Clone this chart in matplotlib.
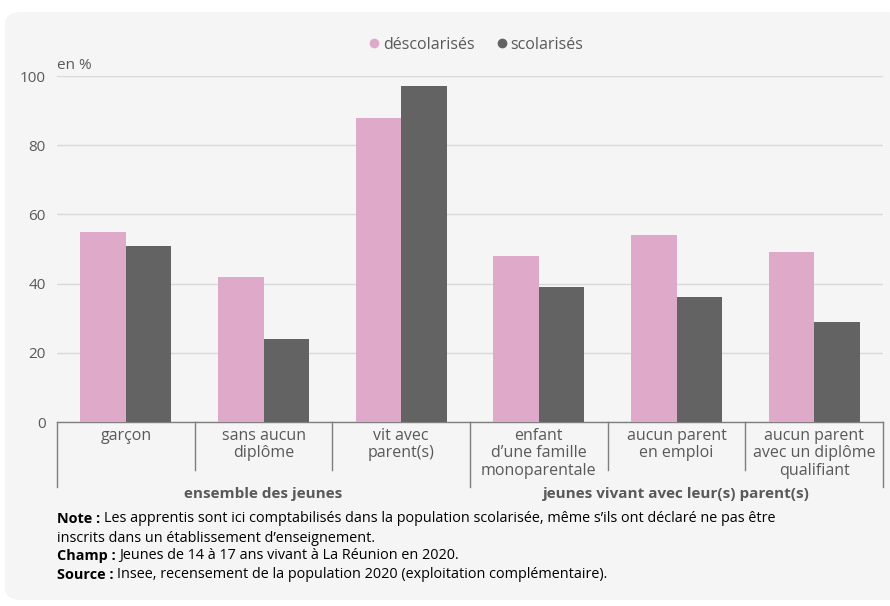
import matplotlib
matplotlib.use("Agg")
import matplotlib.pyplot as plt
import numpy as np
from matplotlib.patches import FancyBboxPatch
from matplotlib.transforms import blended_transform_factory

plt.rcParams['font.family'] = ['Open Sans', 'DejaVu Sans']

# data
categories = ["garçon", "sans aucun\ndiplôme", "vit avec\nparent(s)",
              "enfant\nd’une famille\nmonoparentale", "aucun parent\nen emploi",
              "aucun parent\navec un diplôme\nqualifiant"]
groups = ["ensemble des jeunes", "jeunes vivant avec leur(s) parent(s)"]
group_sizes = [3, 3]
descolarises = [55, 42, 88, 48, 54, 49]
scolarises = [51, 24, 97, 39, 36, 29]
series_names = ["déscolarisés", "scolarisés"]
yticks = [0, 20, 40, 60, 80, 100]

notes = [
    ("Note : ", "Les apprentis sont ici comptabilisés dans la population scolarisée, même s’ils ont déclaré ne pas être"),
    ("", "inscrits dans un établissement d’enseignement."),
    ("Champ : ", "Jeunes de 14 à 17 ans vivant à La Réunion en 2020."),
    ("Source : ", "Insee, recensement de la population 2020 (exploitation complémentaire)."),
]

pink = "#dfaac9"
dark = "#636363"
grey_txt = "#595959"

fig = plt.figure(figsize=(8.9, 6.06), dpi=100)
fig.patch.set_facecolor("white")

# rounded grey panel
panel = FancyBboxPatch((5 / 890, 6 / 606), 900 / 890, 588 / 606,
                       boxstyle="round,pad=0,rounding_size=0.02",
                       transform=fig.transFigure, facecolor="#f5f5f5",
                       edgecolor="none", zorder=-10)
fig.patches.append(panel)

ax = fig.add_axes([57 / 890, 1 - 422 / 606, 826 / 890, 346 / 606])
ax.set_facecolor("none")
ax.set_zorder(2)

x = np.arange(len(categories))
w = 0.33
ax.bar(x - w / 2, descolarises, w, color=pink, label=series_names[0], zorder=3)
ax.bar(x + w / 2, scolarises, w, color=dark, label=series_names[1], zorder=3)

ax.set_xlim(-0.5, len(categories) - 0.5)
ax.set_ylim(0, 100)
ax.set_yticks(yticks)
ax.set_yticklabels([str(t) for t in yticks], fontsize=11, color=grey_txt)
ax.tick_params(axis="y", length=0, pad=8)
ax.set_xticks([])
ax.grid(axis="y", color="#d9d9d9", linewidth=1, zorder=0)
for s in ["top", "right", "left"]:
    ax.spines[s].set_visible(False)
ax.spines["bottom"].set_color("#7f7f7f")
ax.spines["bottom"].set_linewidth(1)

ax.text(0, 1.01, "en %", transform=ax.transAxes, fontsize=11,
        color=grey_txt, va="bottom", ha="left")

# category labels and separators below the axis
tr = blended_transform_factory(ax.transData, ax.transAxes)
for i, lab in enumerate(categories):
    ax.text(i, -0.018, lab, transform=tr, ha="center", va="top",
            fontsize=11.5, color=grey_txt, linespacing=1.1)

bounds = np.cumsum([0] + group_sizes)
for b in range(len(categories) + 1):
    long_line = b in bounds
    y_end = -0.188 if long_line else -0.139
    ax.plot([b - 0.5, b - 0.5], [0, y_end], transform=tr, color="#7f7f7f",
            linewidth=1, clip_on=False)

for g, name in enumerate(groups):
    cx = (bounds[g] + bounds[g + 1]) / 2 - 0.5
    ax.text(cx, -0.208, name, transform=tr, ha="center", va="center",
            fontsize=11, fontweight="bold", color=grey_txt)

# legend
leg = fig.legend(handles=[
    plt.Line2D([], [], marker="o", linestyle="", color=pink, markersize=6),
    plt.Line2D([], [], marker="o", linestyle="", color=dark, markersize=6)],
    labels=series_names, loc="center", bbox_to_anchor=(475 / 890, 1 - 45 / 606),
    ncol=2, frameon=False, fontsize=11.5, handletextpad=0.05, columnspacing=1.2,
    handlelength=1.0)
for t in leg.get_texts():
    t.set_color(grey_txt)

# notes under the chart
renderer = fig.canvas.get_renderer()
y_lines = [519, 538, 556, 575]
for (bold, rest), yp in zip(notes, y_lines):
    x0 = 57 / 890
    yf = 1 - yp / 606
    if bold:
        t = fig.text(x0, yf, bold, fontsize=10.4, fontweight="bold",
                     color="#000000", va="center", ha="left")
        bb = t.get_window_extent(renderer=renderer)
        x0 = bb.x1 / fig.bbox.width
    fig.text(x0, yf, rest, fontsize=10.4, color="#000000", va="center", ha="left")

fig.savefig("out.png", dpi=100, facecolor=fig.get_facecolor())
